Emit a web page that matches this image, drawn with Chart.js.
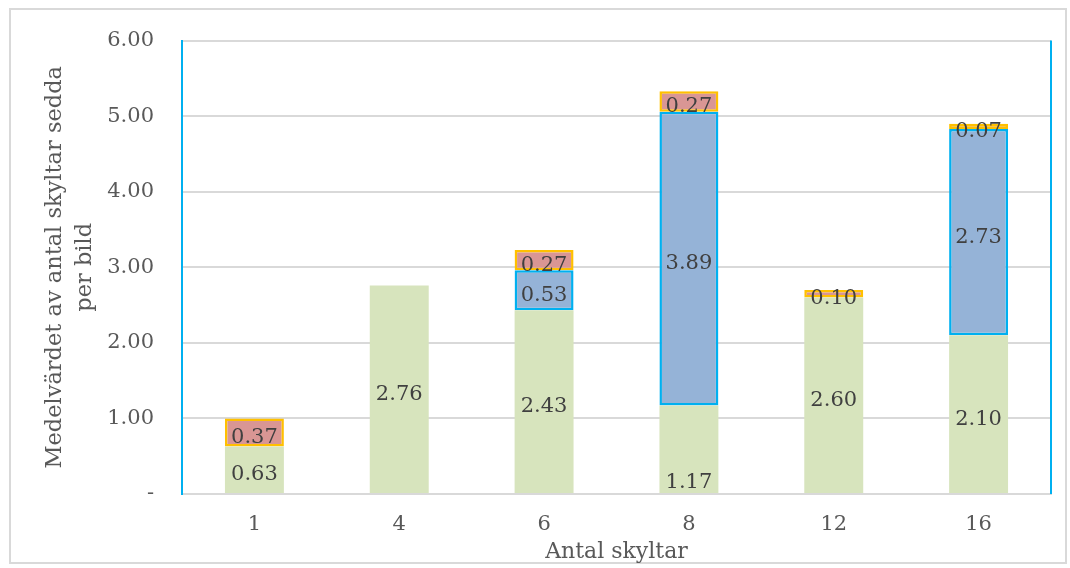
<!DOCTYPE html>
<html>
<head>
<meta charset="utf-8">
<script src="https://cdn.jsdelivr.net/npm/chart.js@4/dist/chart.umd.min.js"></script>
<style>
  html, body { margin: 0; padding: 0; background: #ffffff; width: 1070px; height: 568px; overflow: hidden; }
  #frame { position: absolute; left: 9px; top: 8px; width: 1058px; height: 556px; border: 2px solid #d9d9d9; box-sizing: border-box; }
  #cap { position: absolute; left: 10px; top: -20px; font: 20px "DejaVu Serif", serif; color: #595959; }
  canvas { position: absolute; left: 0; top: 0; }
</style>
</head>
<body>
<div id="frame"></div>
<div id="cap">Chart 1:</div>
<canvas id="c" width="1070" height="568"></canvas>
<script>
const categories = ['1', '4', '6', '8', '12', '16'];
const greenValues = [0.63, 2.76, 2.43, 1.17, 2.60, 2.10];
const blueValues  = [null, null, 0.53, 3.89, null, 2.73];
const redValues   = [0.37, null, 0.27, 0.27, 0.10, 0.07];
const greenLabelAnchor = ['center', 'center', 'center', 'base', 'center', 'center'];
const yTitleLines = ['Medelvärdet av antal skyltar sedda', 'per bild'];
const xTitle = 'Antal skyltar';

const FONT = '"DejaVu Serif", serif';

const labelPlugin = {
  id: 'barLabels',
  afterDatasetsDraw(chart) {
    const ctx = chart.ctx;
    ctx.save();
    ctx.font = '21px ' + FONT;
    ctx.fillStyle = '#404040';
    ctx.textAlign = 'center';
    ctx.textBaseline = 'middle';
    chart.data.datasets.forEach((ds, di) => {
      const meta = chart.getDatasetMeta(di);
      meta.data.forEach((el, i) => {
        const v = ds.data[i];
        if (v === null || v === undefined) return;
        let y = (el.y + el.base) / 2 + 5;
        if (ds.anchors && ds.anchors[i] === 'base') y = el.base - 10;
        ctx.fillText(v.toFixed(2), el.x, y);
      });
    });
    ctx.restore();
  }
};

const rightBorder = {
  id: 'rightBorder',
  afterDraw(chart) {
    const a = chart.chartArea, ctx = chart.ctx;
    ctx.save();
    ctx.strokeStyle = '#00b0f0';
    ctx.lineWidth = 2;
    ctx.beginPath();
    ctx.moveTo(a.right, a.top);
    ctx.lineTo(a.right, a.bottom);
    ctx.stroke();
    ctx.restore();
  }
};

new Chart(document.getElementById('c'), {
  type: 'bar',
  data: {
    labels: categories,
    datasets: [
      { data: greenValues, backgroundColor: '#d7e4bd', borderWidth: 0, anchors: greenLabelAnchor },
      { data: blueValues, backgroundColor: '#95b3d7', borderColor: '#00b0f0', borderWidth: 2.5, borderSkipped: false },
      { data: redValues, backgroundColor: '#d99694', borderColor: '#ffc000', borderWidth: 2.5, borderSkipped: false }
    ]
  },
  options: {
    responsive: false,
    animation: false,
    events: [],
    layout: { padding: { top: 38, right: 19, left: 0, bottom: 0 } },
    datasets: { bar: { barPercentage: 0.407, categoryPercentage: 1 } },
    plugins: { legend: { display: false }, tooltip: { enabled: false } },
    scales: {
      x: {
        stacked: true,
        grid: { display: false, drawTicks: false },
        border: { color: '#d9d9d9', width: 2 },
        ticks: { color: '#595959', font: { family: FONT, size: 21 }, padding: 18 },
        title: { display: true, text: xTitle, color: '#595959', font: { family: FONT, size: 22 }, padding: { top: 0, bottom: 3 } },
        afterFit(scale) { scale.height = 74; }
      },
      y: {
        stacked: true,
        min: 0, max: 6,
        grid: { color: '#d9d9d9', lineWidth: 2, drawTicks: false },
        border: { color: '#00b0f0', width: 2 },
        ticks: {
          stepSize: 1,
          color: '#595959',
          font: { family: FONT, size: 21 },
          padding: 28,
          callback: (v) => v === 0 ? '-' : Number(v).toFixed(2)
        },
        title: { display: true, text: yTitleLines, color: '#595959', font: { family: FONT, size: 22.5, lineHeight: 1.35 }, padding: { top: 40, bottom: 0 } },
        afterFit(scale) { scale.width = 182; }
      }
    }
  },
  plugins: [labelPlugin, rightBorder]
});
</script>
</body>
</html>
